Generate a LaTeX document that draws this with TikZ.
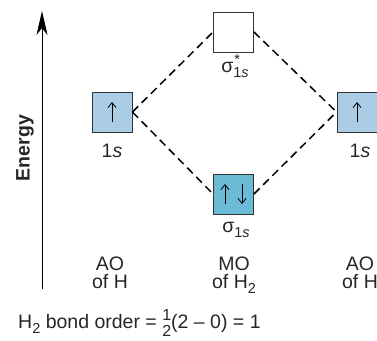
\documentclass[tikz,border=0pt]{standalone}
\usepackage{fontspec}
\setmainfont{Liberation Sans}
\usetikzlibrary{arrows.meta}
\definecolor{aoblue}{RGB}{170,204,228}
\definecolor{moblue}{RGB}{108,187,214}
\newcommand{\lowsub}[1]{\raisebox{-5pt}{\fontsize{14.5}{14.5}\selectfont #1}}
\newcommand{\halfstack}{\raisebox{-8pt}{\fontsize{16}{16}\selectfont\begin{tabular}[b]{@{}c@{}}1\\2\end{tabular}}}
\begin{document}
\begin{tikzpicture}[x=1pt,y=-1pt,
  font=\fontsize{19.5}{18}\selectfont,
  orb/.style={draw=black!80, line width=0.9pt, minimum size=40pt, inner sep=0pt},
  conn/.style={dash pattern=on 8pt off 5pt, line width=1.5pt, draw=black},
  spin/.style={line width=0.8pt, -{Straight Barb[length=5pt,width=8pt]}},
  lbl/.style={inner sep=0pt, text=black!85}]
\useasboundingbox (0,0) rectangle (377,340);
% orbitals
\node[orb, fill=aoblue] (L) at (112,112) {};
\node[orb, fill=white] (T) at (233.5,32) {};
\node[orb, fill=moblue] (B) at (233.5,194) {};
\node[orb, fill=aoblue] (R) at (357,112) {};
% connectors
\draw[conn] (L.east) -- (T.west);
\draw[conn] (L.east) -- (B.west);
\draw[conn] (T.east) -- (R.west);
\draw[conn] (B.east) -- (R.west);
% electrons
\draw[spin] (L.center) ++(0,10) -- ++(0,-20);
\draw[spin] (R.center) ++(0,10) -- ++(0,-20);
\draw[spin] (B.center) ++(-8.5,10) -- ++(0,-20);
\draw[spin] (B.center) ++(8.5,-10) -- ++(0,20);
% orbital labels
\node[lbl, anchor=base] (Lb) at (112,157) {1\textit{s}};
\node[lbl, anchor=base] (Rb) at (360,157) {1\textit{s}};
\node[lbl, anchor=base] (Tb) at (235,72) {σ\makebox[0pt][l]{\hspace{1pt}\raisebox{7.5pt}{\fontsize{14.5}{14.5}\selectfont *}}\lowsub{1\textit{s}}};
\node[lbl, anchor=base] (Bb) at (236,232) {σ\lowsub{1\textit{s}}};
% energy axis
\coordinate (a0) at (42,289);
\coordinate (a1) at (42,11);
\draw[line width=1pt, -{Stealth[length=24pt,width=11pt,inset=7pt]}] (a0) -- (a1);
\node[lbl, rotate=90, font=\fontsize{19.5}{19.5}\selectfont\bfseries] (E) at (25,148) {Energy};
% column labels
\node[lbl, align=center, anchor=north] (c1) at (110,257) {AO\\of H};
\node[lbl, align=center, anchor=north] (c2) at (234,257) {MO\\of H\lowsub{2}};
\node[lbl, align=center, anchor=north] (c3) at (360,257) {AO\\of H};
% bond order
\node[lbl, anchor=base west] (bo) at (18,328) {H\lowsub{2} bond order = \halfstack(2 – 0) = 1};
\end{tikzpicture}
\end{document}
